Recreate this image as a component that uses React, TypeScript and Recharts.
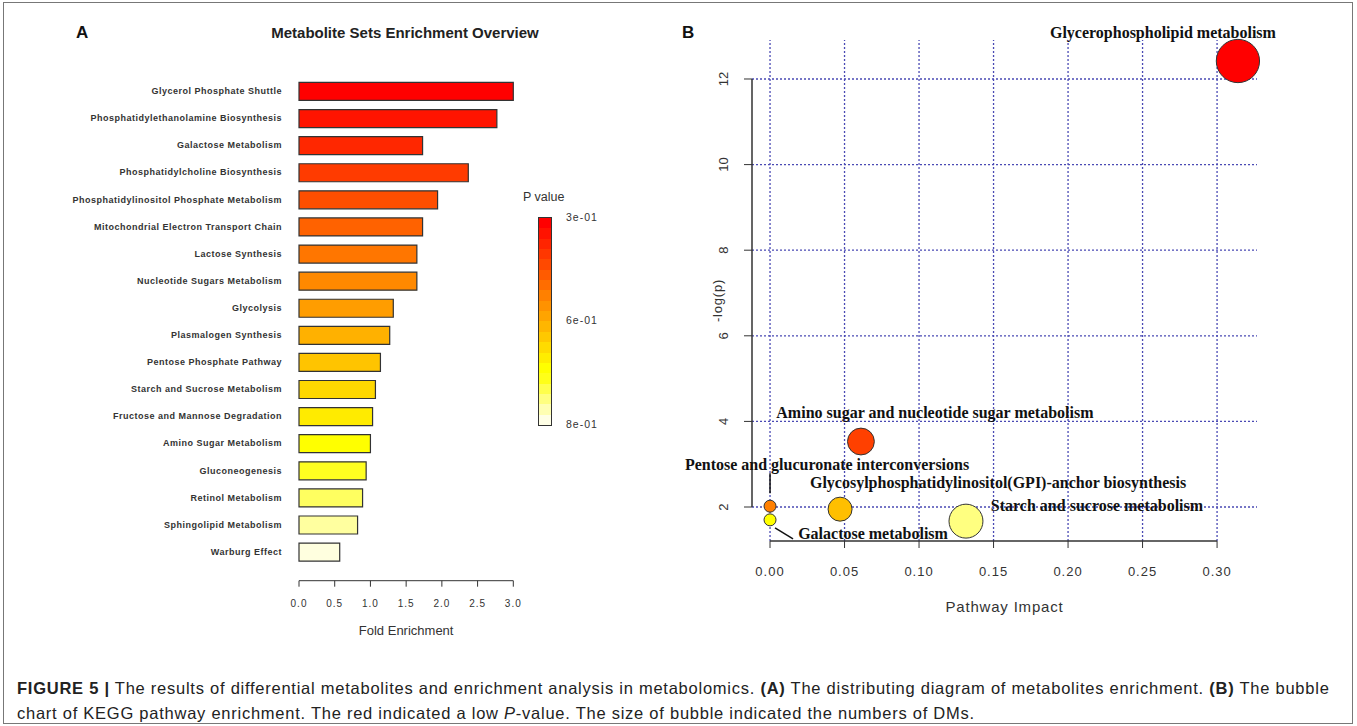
import React from 'react'
import { Bar, BarChart, Cell, Label, ReferenceLine, Scatter, ScatterChart, XAxis, YAxis, ZAxis } from 'recharts'

// Panel A: metabolite set enrichment (sorted by p value)
const metaboliteSets = [
  'Glycerol Phosphate Shuttle',
  'Phosphatidylethanolamine Biosynthesis',
  'Galactose Metabolism',
  'Phosphatidylcholine Biosynthesis',
  'Phosphatidylinositol Phosphate Metabolism',
  'Mitochondrial Electron Transport Chain',
  'Lactose Synthesis',
  'Nucleotide Sugars Metabolism',
  'Glycolysis',
  'Plasmalogen Synthesis',
  'Pentose Phosphate Pathway',
  'Starch and Sucrose Metabolism',
  'Fructose and Mannose Degradation',
  'Amino Sugar Metabolism',
  'Gluconeogenesis',
  'Retinol Metabolism',
  'Sphingolipid Metabolism',
  'Warburg Effect',
]
const foldEnrichment = [3.0, 2.77, 1.73, 2.37, 1.94, 1.73, 1.65, 1.65, 1.32, 1.27, 1.14, 1.07, 1.03, 1.0, 0.94, 0.89, 0.82, 0.57]
const foldTicks = [0, 0.5, 1, 1.5, 2, 2.5, 3]
const pValueLabels = ['3e-01', '6e-01', '8e-01']

// Panel B: KEGG pathway bubbles
const pathways = [
  'Glycerophospholipid metabolism',
  'Amino sugar and nucleotide sugar metabolism',
  'Pentose and glucuronate interconversions',
  'Glycosylphosphatidylinositol(GPI)-anchor biosynthesis',
  'Galactose metabolism',
  'Starch and sucrose metabolism',
]
const pathwayImpact = [0.314, 0.061, 0.0, 0.047, 0.0, 0.1315]
const negLogP = [12.42, 3.53, 2.02, 1.95, 1.7, 1.67]
const bubbleSize = [13, 5, 1, 4, 1, 8]
const impactTicks = [0, 0.05, 0.1, 0.15, 0.2, 0.25, 0.3]
const logPTicks = [2, 4, 6, 8, 10, 12]

// R's heat.colors()
function hsvToHex(h: number, s: number, v: number) {
  const f = (n: number) => {
    const k = (n + h * 6) % 6
    const c = v - v * s * Math.max(0, Math.min(k, 4 - k, 1))
    return Math.round(c * 255).toString(16).padStart(2, '0')
  }
  return '#' + f(5) + f(3) + f(1)
}
function heatColors(n: number) {
  const j = Math.floor(n / 4)
  const i = n - j
  const out: string[] = []
  for (let k = 0; k < i; k++) out.push(hsvToHex(i > 1 ? (k / (i - 1)) / 6 : 0, 1, 1))
  for (let k = 0; k < j; k++) {
    const s = j > 1 ? 1 - 1 / (2 * j) - (k * (1 - 1 / j)) / (j - 1) : 0.5
    out.push(hsvToHex(1 / 6, s, 1))
  }
  return out
}

const barColors = heatColors(metaboliteSets.length)
const barData = metaboliteSets.map((name, i) => ({ name, fold: foldEnrichment[i] }))

const bubbleRank = negLogP.map((v, i) => i).sort((a, b) => negLogP[b] - negLogP[a])
const bubblePalette = heatColors(pathways.length)
const bubbleData = pathways.map((name, i) => ({
  name,
  impact: pathwayImpact[i],
  logp: negLogP[i],
  size: bubbleSize[i],
  color: bubblePalette[bubbleRank.indexOf(i)],
}))

// label placement relative to bubble centre
const labelLayout: Record<string, { dx: number; dy: number; leader?: number[] }> = {
  'Glycerophospholipid metabolism': { dx: -75, dy: -29 },
  'Amino sugar and nucleotide sugar metabolism': { dx: 74, dy: -29 },
  'Pentose and glucuronate interconversions': { dx: 57, dy: -42, leader: [0, -33, 0, -13] },
  'Glycosylphosphatidylinositol(GPI)-anchor biosynthesis': { dx: 158, dy: -27 },
  'Galactose metabolism': { dx: 103, dy: 14, leader: [5, 8, 23, 19] },
  'Starch and sucrose metabolism': { dx: 131, dy: -16 },
}

const X_MIN = -0.0121
const X_MAX = 0.3268
const Y_MIN = 1.206
const Y_MAX = 12.911
const PLOT_B_TOP = 40
const PLOT_B_HEIGHT = 501

// R draws the y axis line only between the first and last tick
const yPx = (v: number) => ((Y_MAX - v) / (Y_MAX - Y_MIN)) * PLOT_B_HEIGHT
const yAxisDash = `0 ${yPx(logPTicks[logPTicks.length - 1])} ${yPx(logPTicks[0]) - yPx(logPTicks[logPTicks.length - 1])} 2000`

const sans = '"Liberation Sans", Arial, sans-serif'
const serif = '"Liberation Serif", "Times New Roman", serif'
const gridStyle = { stroke: '#4a4ab4', strokeDasharray: '2 2', strokeWidth: 1.3 }

const Bubble = (props: any) => {
  const { cx, cy, payload } = props
  const r = props.width ? props.width / 2 : Math.sqrt((props.size || 0) / Math.PI)
  const lab = labelLayout[payload.name]
  return (
    <g>
      <circle cx={cx} cy={cy} r={r} fill={payload.color} stroke="#333" strokeWidth={1} />
      {lab.leader && (
        <line x1={cx + lab.leader[0]} y1={cy + lab.leader[1]} x2={cx + lab.leader[2]} y2={cy + lab.leader[3]} stroke="#111" strokeWidth={1.5} />
      )}
      <text x={cx + lab.dx} y={cy + lab.dy} textAnchor="middle" dominantBaseline="central" fontFamily={serif} fontWeight="bold" fontSize={16} fill="#111">
        {payload.name}
      </text>
    </g>
  )
}

const RotatedTick = (props: any) => {
  const { x, y, payload } = props
  return (
    <text x={x} y={y} transform={`rotate(-90 ${x} ${y})`} textAnchor="middle" fontSize={13} fill="#333" fontFamily={sans}>
      {payload.value}
    </text>
  )
}

const YAxisTitle = (p: any) => {
  const vb = p.viewBox || {}
  const vx = Number.isFinite(vb.x) ? vb.x : 0
  const vy = Number.isFinite(vb.y) ? vb.y : PLOT_B_TOP
  const vh = Number.isFinite(vb.height) ? vb.height : PLOT_B_HEIGHT
  const tx = vx + 42
  const ty = vy + vh / 2 + 10
  return (
    <text x={tx} y={ty} transform={`rotate(-90 ${tx} ${ty})`} textAnchor="middle" fontSize={13} fill="#333" fontFamily={sans} letterSpacing={0.8}>
      -log(p)
    </text>
  )
}

const abs = (left: number, top: number, extra: React.CSSProperties = {}): React.CSSProperties => ({
  position: 'absolute',
  left,
  top,
  whiteSpace: 'nowrap',
  ...extra,
})

const App = () => {
  const bandStops = heatColors(20)
  const gradient = `linear-gradient(to bottom, ${bandStops
    .map((c, i) => `${c} ${(i * 100) / bandStops.length}%, ${c} ${((i + 1) * 100) / bandStops.length}%`)
    .join(', ')})`

  return (
    <div style={{ position: 'absolute', left: 0, top: 0, width: 1357, height: 726, background: '#fff', overflow: 'hidden' }}>
      <div style={{ position: 'absolute', left: 3, top: 2, width: 1348, height: 720, border: '1px solid #777' }} />

      {/* Panel A */}
      <div style={abs(76, 23, { fontFamily: sans, fontWeight: 700, fontSize: 17, color: '#111' })}>A</div>
      <div style={abs(225, 24, { width: 360, textAlign: 'center', fontFamily: sans, fontWeight: 700, fontSize: 15, color: '#222' })}>
        Metabolite Sets Enrichment Overview
      </div>
      <div style={abs(0, 0)}>
        <BarChart
          width={680}
          height={650}
          data={barData}
          layout="vertical"
          barSize={18}
          margin={{ top: 77.45, right: 166.7, bottom: 9.3, left: 0 }}
        >
          <XAxis
            type="number"
            domain={[0, 3]}
            ticks={foldTicks}
            tickFormatter={(v: number) => v.toFixed(1)}
            height={60}
            stroke="#333"
            tickSize={6}
            tickMargin={13}
            tick={{ fontSize: 10, fill: '#333', fontFamily: sans, letterSpacing: 1 }}
          >
            <Label value="Fold Enrichment" position="insideBottom" offset={6} style={{ fontSize: 13, fill: '#333', fontFamily: sans }} />
          </XAxis>
          <YAxis
            type="category"
            dataKey="name"
            width={299}
            padding={{ top: 0, bottom: 15.5 }}
            axisLine={false}
            tickLine={false}
            tickSize={0}
            tickMargin={17}
            interval={0}
            tick={{ fontSize: 9, fontWeight: 700, fill: '#333', fontFamily: sans, letterSpacing: 0.5 }}
          />
          <Bar dataKey="fold" stroke="#333" strokeWidth={1.2} isAnimationActive={false}>
            {barData.map((d, i) => (
              <Cell key={d.name} fill={barColors[i]} />
            ))}
          </Bar>
        </BarChart>
      </div>

      {/* P value colour key */}
      <div style={abs(523, 190, { fontFamily: sans, fontSize: 12.5, color: '#333' })}>P value</div>
      <div style={{ position: 'absolute', left: 538, top: 217, width: 12, height: 207, border: '1px solid #333', background: gradient }} />
      {pValueLabels.map((t, i) => (
        <div key={t} style={abs(566, [211, 314, 418][i], { fontFamily: sans, fontSize: 10.5, color: '#333', letterSpacing: 1 })}>
          {t}
        </div>
      ))}

      {/* Panel B */}
      <div style={abs(682, 23, { fontFamily: sans, fontWeight: 700, fontSize: 17, color: '#111' })}>B</div>
      <div style={abs(680, 0)}>
        <ScatterChart width={677} height={650} margin={{ top: PLOT_B_TOP, right: 100, bottom: 29, left: 0 }}>
          <XAxis
            type="number"
            dataKey="impact"
            domain={[X_MIN, X_MAX]}
            ticks={impactTicks}
            tickFormatter={(v: number) => v.toFixed(2)}
            height={80}
            axisLine={false}
            stroke="#333"
            tickSize={7}
            tickMargin={19}
            tick={{ fontSize: 13, fill: '#333', fontFamily: sans, letterSpacing: 1 }}
          >
            <Label value="Pathway Impact" position="insideBottom" offset={9} style={{ fontSize: 15, fill: '#333', fontFamily: sans, letterSpacing: 0.8 }} />
          </XAxis>
          <YAxis
            type="number"
            dataKey="logp"
            domain={[Y_MIN, Y_MAX]}
            ticks={logPTicks}
            width={72}
            axisLine={{ stroke: '#333', strokeWidth: 1.5, strokeDasharray: yAxisDash }}
            stroke="#333"
            tickSize={8}
            tickMargin={16}
            tick={<RotatedTick />}
          >
            <Label content={<YAxisTitle />} />
          </YAxis>
          <ZAxis type="number" dataKey="size" domain={[0, 13]} range={[0, 1470]} />
          {logPTicks.map((t) => (
            <ReferenceLine key={'h' + t} y={t} {...gridStyle} />
          ))}
          {impactTicks.map((t) => (
            <ReferenceLine key={'v' + t} x={t} {...gridStyle} />
          ))}
          <ReferenceLine segment={[{ x: 0, y: Y_MIN }, { x: 0.3, y: Y_MIN }]} stroke="#333" strokeWidth={1.5} ifOverflow="visible" />
          <Scatter data={bubbleData} shape={<Bubble />} isAnimationActive={false} />
        </ScatterChart>
      </div>

      {/* Caption */}
      <div style={abs(17, 676, { fontFamily: sans, fontSize: 16.5, lineHeight: '25px', color: '#222', letterSpacing: 0.75 })}>
        <b>FIGURE 5 |</b> The results of differential metabolites and enrichment analysis in metabolomics. <b>(A)</b> The distributing diagram of
        metabolites enrichment. <b>(B)</b> The bubble
        <br />
        chart of KEGG pathway enrichment. The red indicated a low <i>P</i>-value. The size of bubble indicated the numbers of DMs.
      </div>
    </div>
  )
}

export default App
